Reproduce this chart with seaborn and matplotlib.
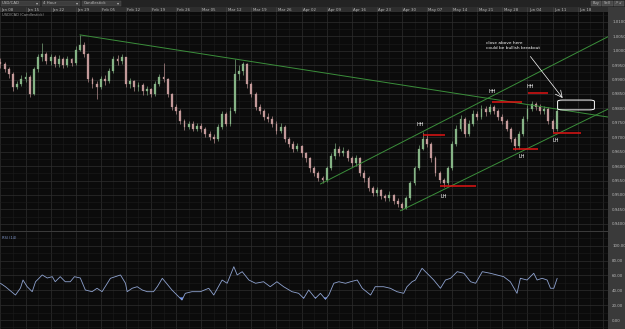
import matplotlib
matplotlib.use("Agg")
import matplotlib.pyplot as plt
import seaborn as sns
import numpy as np
import pandas as pd
from matplotlib.patches import Rectangle, FancyBboxPatch

# ---------------- data ----------------
first_open = 0.9960
closes = [0.9953, 0.9935, 0.9918, 0.9874, 0.9884, 0.9901, 0.9908, 0.9850, 0.9935, 0.9977,
          0.9987, 0.9963, 0.9977, 0.9953, 0.9970, 0.9949, 0.9970, 0.9956, 1.0004, 1.0021,
          0.9987, 0.9901, 0.9884, 0.9874, 0.9901, 0.9894, 0.9929, 0.9970, 0.9963, 0.9977,
          0.9884, 0.9894, 0.9874, 0.9880, 0.9860, 0.9867, 0.9850, 0.9884, 0.9908, 0.9901,
          0.9850, 0.9805, 0.9791, 0.9757, 0.9736, 0.9747, 0.9730, 0.9740, 0.9730, 0.9712,
          0.9702, 0.9695, 0.9736, 0.9781, 0.9747, 0.9791, 0.9918, 0.9929, 0.9953, 0.9884,
          0.9850, 0.9805, 0.9791, 0.9771, 0.9764, 0.9747, 0.9723, 0.9736, 0.9695, 0.9678,
          0.9661, 0.9668, 0.9644, 0.9627, 0.9592, 0.9575, 0.9558, 0.9551, 0.9592, 0.9634,
          0.9661, 0.9644, 0.9654, 0.9627, 0.9610, 0.9627, 0.9575, 0.9558, 0.9524, 0.9507,
          0.9517, 0.9496, 0.9489, 0.9500, 0.9479, 0.9469, 0.9455, 0.9489, 0.9541, 0.9592,
          0.9661, 0.9695, 0.9678, 0.9627, 0.9575, 0.9551, 0.9541, 0.9592, 0.9678, 0.9730,
          0.9764, 0.9712, 0.9747, 0.9781, 0.9771, 0.9798, 0.9788, 0.9805, 0.9791, 0.9771,
          0.9757, 0.9730, 0.9695, 0.9668, 0.9712, 0.9764, 0.9798, 0.9815, 0.9805, 0.9791,
          0.9798, 0.9757, 0.9730, 0.9791]
highs = [0.9975, 0.9962, 0.9945, 0.9925, 0.9895, 0.9915, 0.9925, 0.9915, 0.9945, 0.9990,
         1.0028, 0.9995, 0.9990, 0.9985, 0.9985, 0.9978, 0.9982, 0.9975, 1.0015, 1.0055,
         1.0030, 0.9992, 0.9910, 0.9895, 0.9912, 0.9915, 0.9940, 0.9982, 0.9985, 0.9990,
         0.9980, 0.9905, 0.9900, 0.9892, 0.9888, 0.9878, 0.9872, 0.9895, 0.9920, 0.9958,
         0.9905, 0.9855, 0.9815, 0.9798, 0.9765, 0.9758, 0.9755, 0.9750, 0.9748, 0.9735,
         0.9720, 0.9712, 0.9745, 0.9792, 0.9788, 0.9805, 0.9970, 0.9950, 0.9962, 0.9958,
         0.9892, 0.9858, 0.9815, 0.9798, 0.9785, 0.9772, 0.9755, 0.9748, 0.9742, 0.9702,
         0.9688, 0.9680, 0.9672, 0.9650, 0.9632, 0.9600, 0.9582, 0.9565, 0.9600, 0.9645,
         0.9680, 0.9670, 0.9665, 0.9660, 0.9635, 0.9640, 0.9632, 0.9585, 0.9565, 0.9530,
         0.9528, 0.9522, 0.9505, 0.9512, 0.9505, 0.9488, 0.9475, 0.9498, 0.9550, 0.9602,
         0.9672, 0.9718, 0.9708, 0.9685, 0.9635, 0.9582, 0.9560, 0.9602, 0.9688, 0.9742,
         0.9778, 0.9770, 0.9760, 0.9795, 0.9792, 0.9812, 0.9808, 0.9815, 0.9812, 0.9798,
         0.9780, 0.9762, 0.9735, 0.9700, 0.9722, 0.9775, 0.9812, 0.9825, 0.9822, 0.9815,
         0.9810, 0.9805, 0.9762, 0.9800]
lows = [0.9940, 0.9925, 0.9905, 0.9862, 0.9866, 0.9878, 0.9890, 0.9838, 0.9845, 0.9928,
        0.9965, 0.9955, 0.9952, 0.9945, 0.9945, 0.9940, 0.9942, 0.9948, 0.9950, 0.9998,
        0.9978, 0.9890, 0.9872, 0.9832, 0.9868, 0.9880, 0.9888, 0.9922, 0.9950, 0.9955,
        0.9875, 0.9870, 0.9860, 0.9862, 0.9845, 0.9848, 0.9838, 0.9842, 0.9878, 0.9890,
        0.9840, 0.9795, 0.9780, 0.9745, 0.9725, 0.9728, 0.9720, 0.9722, 0.9718, 0.9702,
        0.9690, 0.9681, 0.9688, 0.9730, 0.9738, 0.9740, 0.9785, 0.9900, 0.9915, 0.9872,
        0.9838, 0.9795, 0.9780, 0.9760, 0.9752, 0.9735, 0.9712, 0.9715, 0.9685, 0.9665,
        0.9650, 0.9652, 0.9632, 0.9615, 0.9580, 0.9565, 0.9548, 0.9540, 0.9545, 0.9585,
        0.9625, 0.9635, 0.9635, 0.9618, 0.9598, 0.9602, 0.9565, 0.9545, 0.9512, 0.9495,
        0.9498, 0.9485, 0.9478, 0.9480, 0.9468, 0.9458, 0.9448, 0.9450, 0.9482, 0.9535,
        0.9585, 0.9655, 0.9665, 0.9615, 0.9565, 0.9540, 0.9528, 0.9535, 0.9585, 0.9670,
        0.9722, 0.9700, 0.9705, 0.9740, 0.9760, 0.9765, 0.9775, 0.9780, 0.9780, 0.9760,
        0.9745, 0.9720, 0.9685, 0.9655, 0.9660, 0.9705, 0.9755, 0.9790, 0.9795, 0.9780,
        0.9782, 0.9745, 0.9718, 0.9722]

week_labels = ["Jan 08", "Jan 15", "Jan 22", "Jan 29", "Feb 05", "Feb 12", "Feb 19", "Feb 26",
               "Mar 05", "Mar 12", "Mar 19", "Mar 26", "Apr 02", "Apr 09", "Apr 16", "Apr 23",
               "Apr 30", "May 07", "May 14", "May 21", "May 28", "Jun 04", "Jun 11", "Jun 18"]
candles_per_week = 6
price_ticks = [1.0100, 1.0050, 1.0000, 0.9950, 0.9900, 0.9850, 0.9800, 0.9750,
               0.9700, 0.9650, 0.9600, 0.9550, 0.9500, 0.9450, 0.9400]
rsi_ticks = [100, 80, 60, 40, 20, 0]

rsi_pos = [0, 1.2, 3.6, 4.8, 5.4, 6.4, 7.6, 8.4, 10, 11.2, 12.4, 13.1, 14.3, 15.5, 16.7, 17.7,
           19.1, 20.3, 21.9, 23.1, 24.3, 26.3, 28.7, 29.9, 30.3, 31.5, 32.7, 33.9, 35.1, 36.6,
           37.5, 38.7, 39.7, 41, 42.6, 43.4, 44.2, 45.8, 47.8, 49.8, 51, 53, 54.2, 55.8, 56.6,
           57.8, 59.4, 61, 62.9, 64.5, 66.1, 67.7, 69.7, 71.3, 72.5, 73.7, 75.3, 76.5, 77.7,
           78.5, 79.7, 80.9, 82.5, 83.7, 85.3, 86.5, 88.5, 89.6, 91.6, 93.2, 94.8, 96.4, 97.2,
           98.4, 99.2, 100.8, 102.4, 103.6, 105.2, 106.4, 107.6, 109.2, 110.8, 112.4, 113.6,
           115.2, 117.1, 118.7, 120.3, 121.9, 123.5, 124.3, 125.9, 127.5, 128.3, 129.5, 130.7,
           131.5, 132.3, 133.1]
rsi_val = [49.4, 44.8, 33.6, 43.1, 53.8, 44.8, 38.1, 51.5, 60.6, 56.5, 58.3, 51.5, 58.3, 51.5,
           51.5, 58.3, 56.5, 40.4, 38.1, 42.7, 38.1, 56.1, 60.6, 49.4, 38.1, 42.7, 44.8, 40.4,
           38.1, 38.1, 44.8, 56.1, 49.4, 40.4, 31.4, 26.9, 35.9, 38.1, 38.1, 42.7, 33.6, 53.8,
           49.4, 71.7, 60.6, 65.0, 53.8, 49.4, 51.5, 44.8, 51.5, 44.8, 38.1, 35.9, 29.2, 40.4,
           29.2, 35.9, 27.9, 33.6, 49.4, 51.5, 49.4, 51.5, 53.8, 42.7, 33.6, 44.8, 44.8, 42.7,
           38.1, 35.9, 44.8, 51.5, 53.8, 69.6, 60.6, 53.8, 42.7, 53.8, 56.1, 65.0, 62.9, 51.5,
           49.4, 65.0, 62.9, 60.6, 58.3, 51.5, 35.9, 56.1, 53.8, 62.9, 53.8, 56.1, 53.8, 42.7,
           42.7, 56.1]

desc_x, desc_y = [19, 145.3], [1.0055, 0.9770]
chan_up_x, chan_up_y = [76.5, 145.3], [0.9538, 1.0049]
chan_lo_x, chan_lo_y = [95.6, 145.3], [0.9445, 0.9798]

swing_labels = ["HH", "LH", "HH", "LH", "HH", "LH"]
swing_level = [0.9709, 0.9531, 0.9822, 0.9658, 0.9853, 0.9716]
swing_start = [101.1, 105.2, 117.6, 122.6, 126.2, 132.2]
swing_end = [106.4, 113.6, 124.8, 128.6, 131.0, 138.7]
swing_label_x = [100.3, 105.9, 117.5, 124.7, 126.7, 132.7]
swing_label_y = [0.9743, 0.9496, 0.9860, 0.9634, 0.9877, 0.9688]

note_text = "close above here\ncould be bullish breakout"
note_xy = (116.2, 1.0018)
arrow_from = (126.7, 0.9980)
arrow_to = (134.4, 0.9836)
box_x, box_y = [133.2, 142.0], [0.9795, 0.9829]

# ---------------- styling ----------------
sns.set_theme(style="dark")
plt.rcParams["font.family"] = ["DejaVu Sans"]

W, H = 625, 329
BG = "#0b0b0b"
GRID = "#2e2e2e"
MINOR = "#1c1c1c"
TXT = "#b8b8b8"
BULL = "#86b486"
BEAR = "#c49a9a"
GREEN = "#3b8f3b"
RED = "#e01414"


def rect(x0, y0, x1, y1):
    return [x0 / W, 1 - y1 / H, (x1 - x0) / W, (y1 - y0) / H]


fig = plt.figure(figsize=(W / 100, H / 100), dpi=100, facecolor="#3a3a3a")

# toolbar
tb = fig.add_axes(rect(0, 0, 625, 6.5))
tb.set_xlim(0, W)
tb.set_ylim(6.5, 0)
tb.axis("off")
tb.add_patch(Rectangle((0, 0), W, 6.5, color="#232323"))
for (x0, x1, lab) in [(0.5, 40, "USD/CAD"), (41.5, 80, "4 Hour"), (82, 121, "Candlestick")]:
    tb.add_patch(Rectangle((x0, 0.8), x1 - x0, 4.8, facecolor="#3d3d3d", edgecolor="#555555", lw=0.3))
    tb.text(x0 + 1.5, 3.3, lab, fontsize=2.8, color=TXT, va="center", ha="left")
    tb.text(x1 - 3, 3.3, "\u25be", fontsize=3, color=TXT, va="center", ha="center")
for (x0, x1, lab) in [(591, 601, "Buy"), (602, 613, "Sell"), (614, 624, "\u2197 \u2199")]:
    tb.add_patch(Rectangle((x0, 0.8), x1 - x0, 4.8, facecolor="#4a4a4a", edgecolor="#666666", lw=0.3))
    tb.text((x0 + x1) / 2, 3.3, lab, fontsize=2.6, color=TXT, va="center", ha="center")

n = len(closes)
opens = [first_open] + closes[:-1]
idx = np.arange(n)
xmax = 145.25

# date header
hd = fig.add_axes(rect(0, 6.5, 608, 12))
hd.set_facecolor("#2e2e2e")
hd.set_xlim(-0.1, xmax)
hd.set_ylim(0, 1)
hd.set_xticks([]); hd.set_yticks([])
for s in hd.spines.values():
    s.set_visible(False)
for k, lab in enumerate(week_labels):
    xk = k * candles_per_week
    hd.axvline(xk, color="#4a4a4a", lw=0.4)
    hd.text(xk + 0.3, 0.45, lab, fontsize=2.8, color=TXT, va="center", ha="left")

# main price axes
ax = fig.add_axes(rect(0, 12, 608, 231))
ax.set_facecolor(BG)
ax.set_xlim(-0.1, xmax)
ax.set_ylim(0.93831, 1.01343)
ax.set_xticks([k * candles_per_week for k in range(len(week_labels) + 1)])
ax.set_xticks(np.arange(0, xmax, candles_per_week / 2), minor=True)
ax.set_yticks(price_ticks)
ax.set_yticks(np.arange(0.9375, 1.0135, 0.0025), minor=True)
ax.grid(True, which="major", color=GRID, lw=0.5)
ax.grid(True, which="minor", color=MINOR, lw=0.4)
ax.tick_params(axis="x", which="both", length=0, labelbottom=False)
ax.yaxis.tick_right()
ax.tick_params(axis="y", which="both", length=0, labelsize=2.9, labelcolor=TXT, pad=3)
ax.set_yticklabels([f"{t:.4f}" for t in price_ticks])
for s in ax.spines.values():
    s.set_visible(False)

for i in range(n):
    o, c, h, l = opens[i], closes[i], highs[i], lows[i]
    col = BULL if c >= o else BEAR
    ax.vlines(idx[i], l, h, color=col, lw=0.45)
    ax.bar(idx[i], abs(c - o) if abs(c - o) > 0.00015 else 0.00015, bottom=min(o, c),
           width=0.45, color=col, edgecolor=col, lw=0.2)

trend = pd.DataFrame({
    "x": desc_x + chan_up_x + chan_lo_x,
    "y": desc_y + chan_up_y + chan_lo_y,
    "line": ["desc"] * 2 + ["up"] * 2 + ["lo"] * 2,
})
sns.lineplot(data=trend, x="x", y="y", units="line", estimator=None, color=GREEN,
             lw=0.7, ax=ax, legend=False)
ax.set_xlabel(""); ax.set_ylabel("")

for lab, lev, x0, x1, lx, ly in zip(swing_labels, swing_level, swing_start, swing_end,
                                    swing_label_x, swing_label_y):
    ax.plot([x0, x1], [lev, lev], color=RED, lw=1.1, zorder=5, snap=True,
            solid_capstyle="butt")
    ax.text(lx, ly, lab, fontsize=3.6, color="white", ha="center", va="center", zorder=6)

ax.text(note_xy[0], note_xy[1], note_text, fontsize=3.1, color="white", ha="left",
        va="center", linespacing=1.3)
ax.annotate("", xy=arrow_to, xytext=arrow_from,
            arrowprops=dict(arrowstyle="->", color="white", lw=0.5, shrinkA=0, shrinkB=0))
ax.add_patch(FancyBboxPatch((box_x[0], box_y[0]), box_x[1] - box_x[0], box_y[1] - box_y[0],
                            boxstyle="round,pad=0,rounding_size=1.2", mutation_aspect=0.0004,
                            facecolor="none", edgecolor="white", lw=0.7, zorder=6))
ax.text(0.3, 1.0125, "USD/CAD (Candlestick)", fontsize=2.6, color="#9a9a9a", ha="left", va="center")

# RSI axes
rx = fig.add_axes(rect(0, 232, 608, 329))
rx.set_facecolor(BG)
rx.set_xlim(-0.1, xmax)
rx.set_ylim(-12.1, 118.4)
rx.set_xticks([k * candles_per_week for k in range(len(week_labels) + 1)])
rx.set_xticks(np.arange(0, xmax, candles_per_week / 2), minor=True)
rx.set_yticks(rsi_ticks)
rx.set_yticks(np.arange(-10, 120, 10), minor=True)
rx.grid(True, which="major", color=GRID, lw=0.5)
rx.grid(True, which="minor", color=MINOR, lw=0.4)
rx.tick_params(axis="x", which="both", length=0, labelbottom=False)
rx.yaxis.tick_right()
rx.tick_params(axis="y", which="both", length=0, labelsize=2.9, labelcolor=TXT, pad=3)
rx.set_yticklabels([f"{t:.2f}" for t in rsi_ticks])
for s in rx.spines.values():
    s.set_visible(False)
rsi_df = pd.DataFrame({"x": rsi_pos, "rsi": rsi_val})
sns.lineplot(data=rsi_df, x="x", y="rsi", color="#8ea2cf", lw=0.6, ax=rx)
rv = np.array(rsi_val)
rx.fill_between(rsi_pos, rv, 30, where=rv < 30, interpolate=True, color="#6a90ff", lw=0.3,
                edgecolor="#6a90ff")
rx.set_xlabel(""); rx.set_ylabel("")
rx.text(0.3, 110.5, "RSI (14)", fontsize=2.6, color="#7f95c8", ha="left", va="center")

fig.savefig("out.png", dpi=100, facecolor=fig.get_facecolor())
